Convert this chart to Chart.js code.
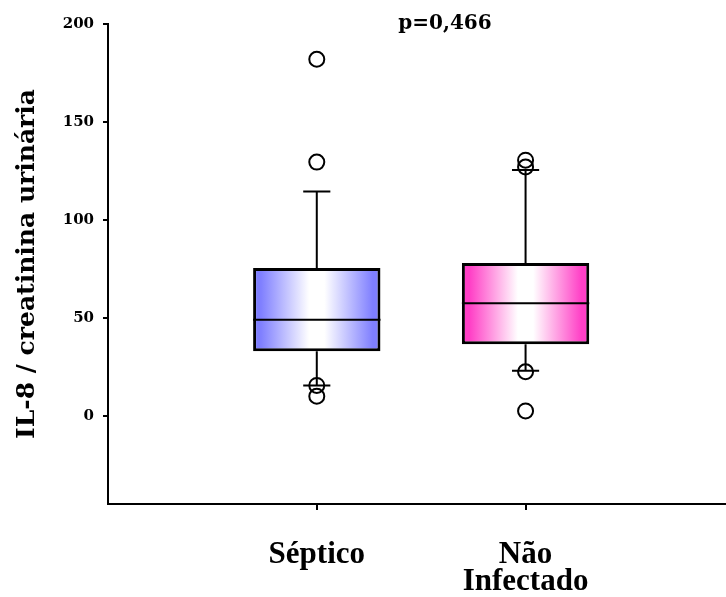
<!DOCTYPE html>
<html>
<head>
<meta charset="utf-8">
<title>IL-8 / creatinina urinária</title>
<script src="https://cdn.jsdelivr.net/npm/chart.js@4/dist/chart.umd.min.js"></script>
<style>
  html, body { margin: 0; padding: 0; background: #ffffff; }
  #wrap { width: 726px; height: 597px; }
</style>
</head>
<body>
<div id="wrap"><canvas id="chart" width="726" height="597"></canvas></div>
<script>
// Groups and their box-plot summaries (IL-8 / creatinina urinária)
const categories = ['Séptico', ['Não', 'Infectado']];
const q1 = [33, 36.5];
const medians = [49, 57.5];
const q3 = [75.5, 78];
const whiskerLow = [15.5, 23];
const whiskerHigh = [114.5, 125.5];
const outliersSeptico = [182, 129.5, 15.5, 10];
const outliersNaoInfectado = [130.5, 127, 22.5, 2.5];
const yTickValues = [0, 50, 100, 150, 200];
const pValueText = 'p=0,466';
const yTitle = 'IL-8 / creatinina urinária';

const boxColors = ['#7f7fff', '#ff3fc6'];
const BOX_FRACTION = 0.61;   // box width relative to group spacing
const CAP_FRACTION = 0.13;   // whisker cap width relative to group spacing

// Horizontal "edge -> white -> edge" fill for each box
function boxGradient(context) {
  const chart = context.chart;
  const i = context.dataIndex;
  const base = boxColors[i];
  if (!chart.chartArea || i === undefined) return base;
  const xs = chart.scales.x;
  const cx = xs.getPixelForValue(i + 1);
  const half = (xs.getPixelForValue(1) - xs.getPixelForValue(0)) * BOX_FRACTION / 2;
  const g = chart.ctx.createLinearGradient(cx - half, 0, cx + half, 0);
  g.addColorStop(0, base);
  g.addColorStop(0.06, base);
  g.addColorStop(0.44, '#ffffff');
  g.addColorStop(0.56, '#ffffff');
  g.addColorStop(0.94, base);
  g.addColorStop(1, base);
  return g;
}

// Medians, whiskers and caps drawn through the chart scales right after the boxes
const whiskerPlugin = {
  id: 'whiskers',
  afterDatasetDraw(chart, args) {
    if (args.meta.type !== 'bar') return;
    const {ctx, scales: {x, y}} = chart;
    const unit = x.getPixelForValue(1) - x.getPixelForValue(0);
    ctx.save();
    ctx.strokeStyle = '#000000';
    ctx.lineWidth = 2;
    ctx.lineCap = 'butt';
    categories.forEach((c, i) => {
      const pos = i + 1;
      const cx = x.getPixelForValue(pos);
      const bh = unit * BOX_FRACTION / 2;
      const ch = unit * CAP_FRACTION / 2;
      ctx.beginPath();
      // median
      ctx.moveTo(cx - bh, y.getPixelForValue(medians[i]));
      ctx.lineTo(cx + bh, y.getPixelForValue(medians[i]));
      // upper whisker + cap
      ctx.moveTo(cx, y.getPixelForValue(q3[i]));
      ctx.lineTo(cx, y.getPixelForValue(whiskerHigh[i]));
      ctx.moveTo(cx - ch, y.getPixelForValue(whiskerHigh[i]));
      ctx.lineTo(cx + ch, y.getPixelForValue(whiskerHigh[i]));
      // lower whisker + cap
      ctx.moveTo(cx, y.getPixelForValue(q1[i]));
      ctx.lineTo(cx, y.getPixelForValue(whiskerLow[i]));
      ctx.moveTo(cx - ch, y.getPixelForValue(whiskerLow[i]));
      ctx.lineTo(cx + ch, y.getPixelForValue(whiskerLow[i]));
      ctx.stroke();
    });
    ctx.restore();
  }
};

// p-value note above the plot
const pValuePlugin = {
  id: 'pValue',
  afterDraw(chart) {
    const ctx = chart.ctx;
    ctx.save();
    ctx.font = 'bold 20px "DejaVu Serif"';
    ctx.fillStyle = '#000000';
    ctx.textAlign = 'center';
    ctx.textBaseline = 'middle';
    ctx.fillText(pValueText, 445, 24);
    ctx.restore();
  }
};

const outlierStyle = {
  type: 'scatter',
  pointStyle: 'circle',
  pointRadius: 7.5,
  pointBorderWidth: 2,
  pointBorderColor: '#000000',
  pointBackgroundColor: 'rgba(255,255,255,0)',
  showLine: false
};

new Chart(document.getElementById('chart'), {
  type: 'bar',
  data: {
    datasets: [
      {
        label: 'Caixa',
        data: categories.map((c, i) => ({x: i + 1, y: [q1[i], q3[i]]})),
        backgroundColor: boxGradient,
        borderColor: '#000000',
        borderWidth: 3,
        borderSkipped: false,
        categoryPercentage: 1,
        barPercentage: BOX_FRACTION
      },
      Object.assign({label: 'Séptico', data: outliersSeptico.map(v => ({x: 1, y: v}))}, outlierStyle),
      Object.assign({label: 'Não Infectado', data: outliersNaoInfectado.map(v => ({x: 2, y: v}))}, outlierStyle)
    ]
  },
  options: {
    responsive: false,
    animation: false,
    devicePixelRatio: 1,
    layout: {autoPadding: false, padding: {top: 24, right: 0, bottom: 0, left: 0}},
    plugins: {
      legend: {display: false},
      tooltip: {enabled: false},
      title: {display: false}
    },
    scales: {
      x: {
        type: 'linear',
        position: 'bottom',
        offset: false,
        min: 0,
        max: 2.96,
        afterBuildTicks: (scale) => { scale.ticks = categories.map((c, i) => ({value: i + 1})); },
        afterFit: (scale) => { scale.height = 93; scale.paddingLeft = 0; scale.paddingRight = 0; },
        grid: {display: true, offset: false, drawOnChartArea: false, drawTicks: true, tickLength: 6, color: '#000000', lineWidth: 2},
        border: {display: true, color: '#000000', width: 2},
        ticks: {
          autoSkip: false,
          maxRotation: 0,
          color: '#000000',
          padding: 32,
          font: {family: '"Liberation Serif"', weight: 'bold', size: 31, lineHeight: 0.85},
          callback: (v) => categories[Math.round(v) - 1]
        }
      },
      y: {
        type: 'linear',
        min: -45,
        max: 200,
        afterBuildTicks: (scale) => { scale.ticks = yTickValues.map(v => ({value: v})); },
        afterFit: (scale) => { scale.width = 108; scale.paddingTop = 0; scale.paddingBottom = 0; },
        grid: {display: true, drawOnChartArea: false, drawTicks: true, tickLength: 5, color: '#000000', lineWidth: 2},
        border: {display: true, color: '#000000', width: 2},
        ticks: {
          color: '#000000',
          padding: 9,
          font: {family: '"DejaVu Serif"', weight: 'bold', size: 15}
        },
        title: {
          display: true,
          text: yTitle,
          color: '#000000',
          padding: {top: 12, bottom: 0},
          font: {family: '"DejaVu Serif"', weight: 'bold', size: 25}
        }
      }
    }
  },
  plugins: [whiskerPlugin, pValuePlugin]
});
</script>
</body>
</html>
